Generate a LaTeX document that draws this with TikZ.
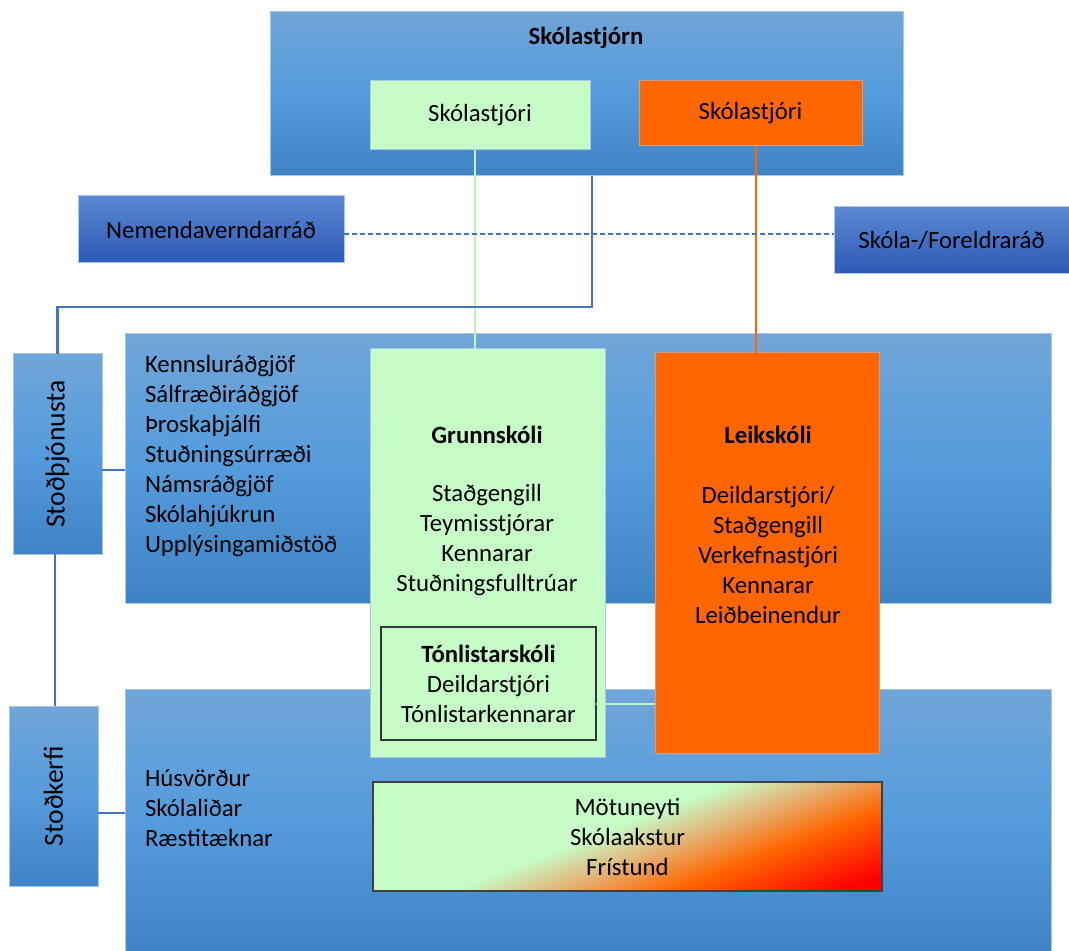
\documentclass[tikz,border=0pt]{standalone}
\usepackage{fontspec}
\setmainfont{Carlito}
\definecolor{lgreen}{HTML}{C6FCC6}
\definecolor{lgline}{HTML}{BDF5BD}
\definecolor{orng}{HTML}{FF6600}
\definecolor{btop}{HTML}{70A5D8}
\definecolor{bmid}{HTML}{549CDC}
\definecolor{bbot}{HTML}{3F83C5}
\definecolor{dtop}{HTML}{5B87D2}
\definecolor{dbot}{HTML}{2D5AB5}
\definecolor{bborder}{HTML}{A8C8EA}
\definecolor{lineblue}{HTML}{4472C4}
\definecolor{tanc}{HTML}{E3B67A}
\definecolor{redc}{HTML}{FF0000}
\pgfdeclarehorizontalshading{diaggrad}{100bp}{color(0bp)=(lgreen); color(47bp)=(lgreen); color(55bp)=(tanc); color(65bp)=(orng); color(79bp)=(redc); color(100bp)=(redc)}
\tikzset{
  every node/.style={font=\fontsize{12.4}{15}\selectfont, inner sep=0pt, outer sep=0pt},
  bluebox/.style={draw=bborder, line width=0.5pt, top color=btop, bottom color=bbot, middle color=bmid},
  darkbox/.style={draw=bborder, line width=0.5pt, top color=dtop, bottom color=dbot},
  greenbox/.style={draw=bborder, line width=0.5pt, fill=lgreen},
  orangebox/.style={draw=bborder!60!orng, line width=0.5pt, fill=orng},
  plainbox/.style={draw=black!80, line width=0.6pt},
  conn/.style={line width=1.1pt},
  sidelabel/.style={rotate=90, font=\fontsize{13.8}{15}\selectfont},
  titletext/.style={font=\bfseries\fontsize{12.4}{15}\selectfont},
  listtext/.style={align=left, anchor=west},
  ctext/.style={align=center}
}
\begin{document}
\begin{tikzpicture}[x=0.5pt, y=-0.5pt]
\useasboundingbox (0,0) rectangle (1069,951);
% big blue boxes
\node[bluebox, minimum width=316.5pt, minimum height=82pt] (sjorn) at (586.5,94) {};
\node[titletext] (sjornt) at (586,38) {Skólastjórn};
\node[bluebox, minimum width=463pt, minimum height=134.5pt] (mid1) at (588,468.5) {};
\node[bluebox, minimum width=463pt, minimum height=133pt] (mid2) at (588,822) {};
% council boxes
\node[darkbox, minimum width=133pt, minimum height=33.5pt] (nem) at (211,229.5) {Nemendaverndarráð};
\node[darkbox, minimum width=117.5pt, minimum height=33.5pt] (skf) at (951.5,240.5) {Skóla-/Foreldraráð};
% side boxes
\node[bluebox, minimum width=44.5pt, minimum height=100pt] (stodj) at (57.5,454) {};
\node[sidelabel] (stodjt) at (57.5,454) {Stoðþjónusta};
\node[bluebox, minimum width=44.5pt, minimum height=90pt] (stodk) at (53.5,796) {};
\node[sidelabel] (stodkt) at (53.5,796) {Stoðkerfi};
% head boxes
\node[greenbox, minimum width=110pt, minimum height=34.5pt] (sgreen) at (480,115.5) {Skólastjóri};
\node[orangebox, minimum width=111.5pt, minimum height=32.5pt] (sorange) at (750.5,113.5) {Skólastjóri};
% lists
\node[listtext] (list1) at (145,456) {Kennsluráðgjöf\\Sálfræðiráðgjöf\\Þroskaþjálfi\\Stuðningsúrræði\\Námsráðgjöf\\Skólahjúkrun\\Upplýsingamiðstöð};
\node[listtext] (list2) at (145,808) {Húsvörður\\Skólaliðar\\Ræstitæknar};
% schools
\node[greenbox, minimum width=117.5pt, minimum height=204pt] (grunn) at (487.5,553) {};
\node[titletext] (grunnt) at (487,435) {Grunnskóli};
\node[ctext] (grunnl) at (487,540) {Staðgengill\\Teymisstjórar\\Kennarar\\Stuðningsfulltrúar};
\node[plainbox, minimum width=107.5pt, minimum height=56.5pt, align=center] (tonl) at (488.5,683.5) {\textbf{Tónlistarskóli}\\Deildarstjóri\\Tónlistarkennarar};
\node[orangebox, minimum width=112pt, minimum height=200pt] (leik) at (767,553) {};
\node[titletext] (leikt) at (768,435) {Leikskóli};
\node[ctext] (leikl) at (768,555) {Deildarstjóri/\\Staðgengill\\Verkefnastjóri\\Kennarar\\Leiðbeinendur};
% gradient box
\node[draw=black!75, line width=0.6pt, shading=diaggrad, shading angle=-68.7, minimum width=254.5pt, minimum height=54.5pt] (grad) at (627.5,836.5) {};
\node[ctext] (gradt) at (627.5,837) {Mötuneyti\\Skólaakstur\\Frístund};
% connectors
\draw[conn, lgline, line width=1.4pt] (sgreen.south -| 475,0) -- (grunn.north -| 475,0);
\draw[conn, orng, line width=1.4pt] (sorange.south -| 756,0) -- (leik.north -| 756,0);
\draw[conn, lgline, line width=1.4pt] (tonl.east |- 0,704) -- (leik.west |- 0,704);
\draw[conn, lineblue] (sjorn.south -| 592,0) -- (592,307) -| (stodj.north);
\draw[conn, lineblue] (stodj.east |- 0,470) -- (mid1.west |- 0,470);
\draw[conn, lineblue] (stodj.south -| 55,0) -- (stodk.north -| 55,0);
\draw[conn, lineblue] (stodk.east |- 0,813) -- (mid2.west |- 0,813);
\draw[conn, lineblue, line width=0.9pt, dash pattern=on 2.5pt off 1.5pt] (nem.east |- 0,234) -- (skf.west |- 0,234);
\end{tikzpicture}
\end{document}
